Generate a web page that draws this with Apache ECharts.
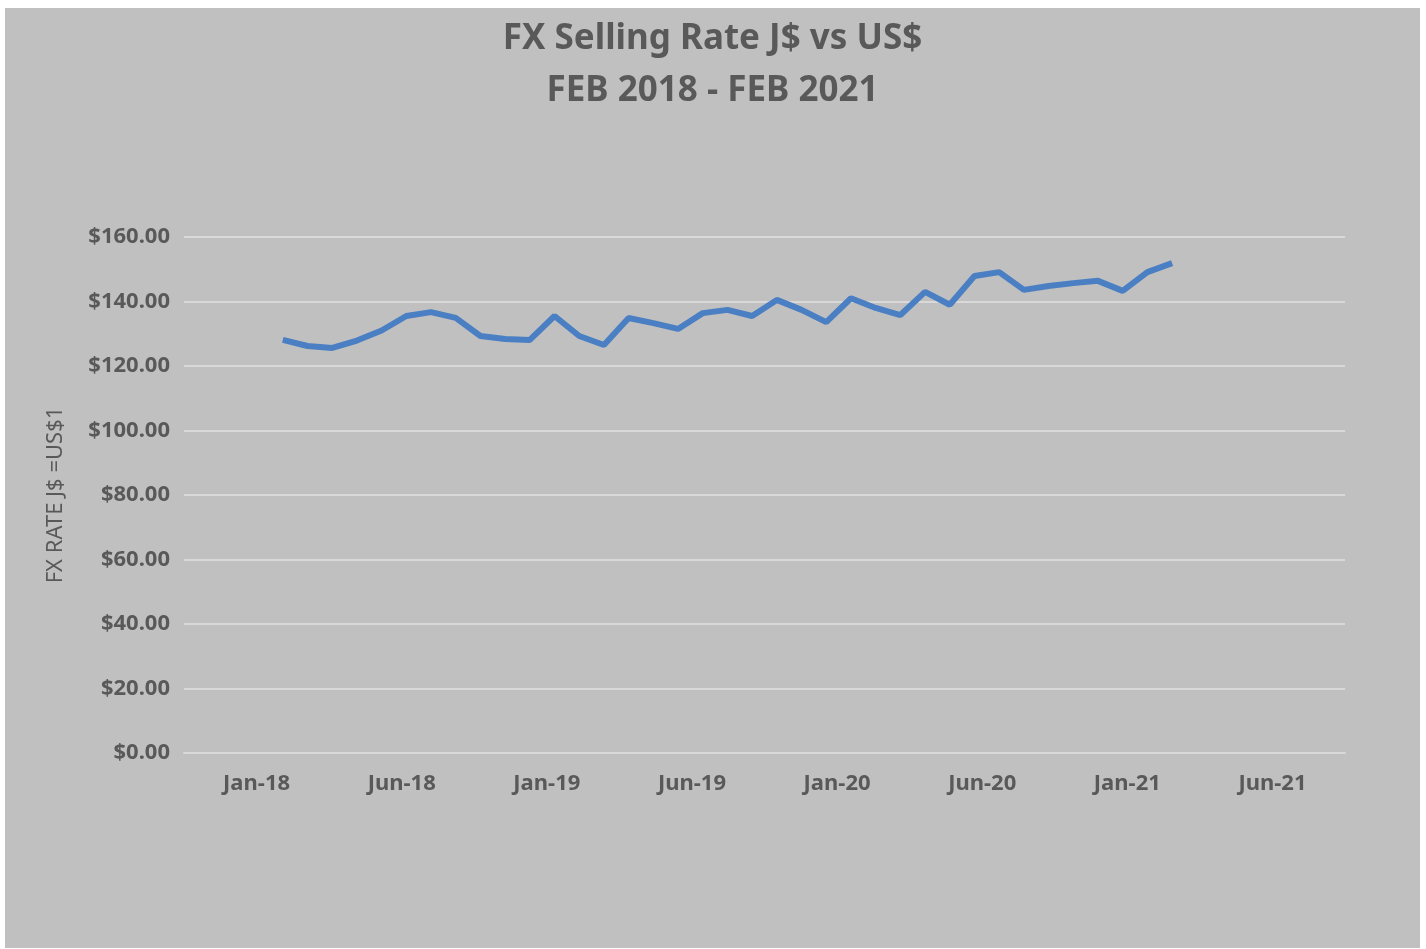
<!DOCTYPE html>
<html>
<head>
<meta charset="utf-8">
<script src="https://cdn.jsdelivr.net/npm/echarts@6/dist/echarts.min.js"></script>
<style>
    html, body { margin: 0; padding: 0; background: #ffffff; }
    #chart { position: absolute; left: 5px; top: 8px; width: 1415px; height: 940px; }
</style>
</head>
<body>
<div id="chart"></div>
<script>
    // tick labels on the date axis (one per half-year band)
    var periodLabels = ['Jan-18', 'Jun-18', 'Jan-19', 'Jun-19', 'Jan-20', 'Jun-20', 'Jan-21', 'Jun-21'];

    // monthly readings, Feb 2018 - Feb 2021
    var months = [
        'Feb-18', 'Mar-18', 'Apr-18', 'May-18', 'Jun-18', 'Jul-18', 'Aug-18', 'Sep-18', 'Oct-18', 'Nov-18', 'Dec-18',
        'Jan-19', 'Feb-19', 'Mar-19', 'Apr-19', 'May-19', 'Jun-19', 'Jul-19', 'Aug-19', 'Sep-19', 'Oct-19', 'Nov-19', 'Dec-19',
        'Jan-20', 'Feb-20', 'Mar-20', 'Apr-20', 'May-20', 'Jun-20', 'Jul-20', 'Aug-20', 'Sep-20', 'Oct-20', 'Nov-20', 'Dec-20',
        'Jan-21', 'Feb-21'
    ];
    var sellingRate = [
        128.1, 126.2, 125.6, 127.9, 131.0, 135.5, 136.7, 134.9, 129.3, 128.4, 128.1,
        135.5, 129.3, 126.5, 134.9, 133.3, 131.5, 136.4, 137.4, 135.5, 140.5, 137.4, 133.6,
        141.0, 138.0, 135.8, 143.0, 139.0, 147.9, 149.1, 143.6, 144.8, 145.7, 146.4, 143.3,
        149.1, 151.9
    ];

    var textColor = '#595959';
    var lineColor = '#d9d9d9';

    var chart = echarts.init(document.getElementById('chart'));
    chart.setOption({
        backgroundColor: '#c0c0c0',
        animation: false,
        title: {
            text: 'FX Selling Rate J$ vs US$\nFEB 2018 - FEB 2021',
            left: 'center',
            top: 0,
            textStyle: {
                fontFamily: 'Noto Sans',
                fontSize: 35,
                fontWeight: 'bold',
                color: textColor,
                lineHeight: 52
            }
        },
        grid: {
            left: 179,
            right: 75,
            top: 229,
            bottom: 195
        },
        xAxis: [
            {
                type: 'category',
                data: periodLabels,
                boundaryGap: true,
                axisLine: { lineStyle: { color: lineColor, width: 2 } },
                axisTick: { length: 8, lineStyle: { color: lineColor, width: 2 } },
                axisLabel: {
                    color: textColor,
                    fontFamily: 'Noto Sans',
                    fontSize: 22,
                    fontWeight: 'bold',
                    margin: 20
                }
            },
            {
                // hidden month scale the line is drawn on
                type: 'value',
                min: -4,
                max: 43,
                show: false
            }
        ],
        yAxis: {
            type: 'value',
            min: 0,
            max: 160,
            interval: 20,
            name: 'FX RATE J$ =US$1',
            nameLocation: 'middle',
            nameGap: 117,
            nameTextStyle: {
                color: textColor,
                fontFamily: 'Noto Sans',
                fontSize: 22
            },
            axisLine: { show: false },
            axisTick: { show: false },
            splitLine: { lineStyle: { color: lineColor, width: 2 } },
            axisLabel: {
                color: textColor,
                fontFamily: 'Noto Sans',
                fontSize: 22,
                fontWeight: 'bold',
                margin: 14,
                formatter: function (v) { return '$' + v.toFixed(2); }
            }
        },
        series: [
            {
                name: 'FX Selling Rate',
                type: 'line',
                xAxisIndex: 1,
                data: sellingRate.map(function (v, i) { return [i, v]; }),
                showSymbol: false,
                lineStyle: { color: '#4a7fc3', width: 6 }
            }
        ]
    });
</script>
</body>
</html>
